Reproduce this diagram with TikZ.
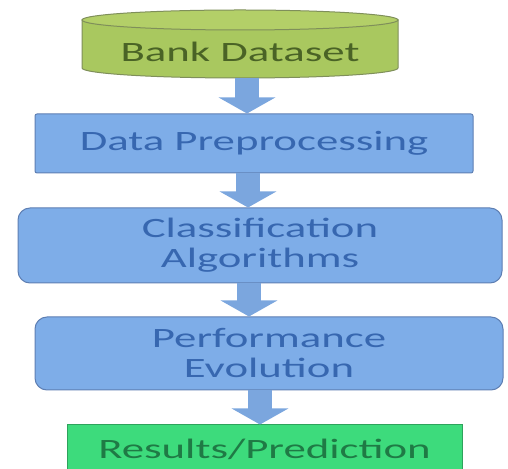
\documentclass[tikz,border=0pt]{standalone}
\usepackage{fontspec}
\setmainfont{Carlito}[FakeStretch=1.6]
\usetikzlibrary{arrows.meta}
\definecolor{cylgreen}{HTML}{A9C85F}
\definecolor{cyltop}{HTML}{B3CF68}
\definecolor{cyledge}{HTML}{7F8F5A}
\definecolor{cyltext}{HTML}{4A6326}
\definecolor{boxblue}{HTML}{7EADE8}
\definecolor{boxedge}{HTML}{5E7FB3}
\definecolor{boxtext}{HTML}{3767B0}
\definecolor{resgreen}{HTML}{3DDB7C}
\definecolor{resedge}{HTML}{2EA35C}
\definecolor{restext}{HTML}{1F7A45}
\definecolor{flowblue}{HTML}{7BA6DE}
\tikzset{
  label font/.style={font=\fontsize{28pt}{30pt}\selectfont},
  box/.style={draw=boxedge, fill=boxblue, text=boxtext, line width=1pt, inner sep=0pt, align=center, label font},
  flow/.style={draw=flowblue, line width=24pt, -{Triangle[length=16pt,width=56pt]}}
}
\begin{document}
\begin{tikzpicture}[x=1pt,y=1pt]
   \useasboundingbox (0,0) rectangle (508,468);
   \fill[white] (0,0) rectangle (508,468);
   \filldraw[fill=cylgreen, draw=cyledge, line width=1pt] (82,448) -- (82,400) arc[start angle=180, end angle=360, x radius=158, y radius=10] -- (398,448) -- cycle;
   \filldraw[fill=cyltop, draw=cyledge, line width=1pt] (240,448) ellipse [x radius=158, y radius=10];
   \node (cyl) [minimum width=316pt, minimum height=68pt, inner sep=0pt] at (240,424) {};
   \node (bank) [text=cyltext, label font] at (240,416) {Bank Dataset};
   \node (prep) [box, minimum width=438pt, minimum height=59pt, rounded corners=2pt] at (254,324.5) {Data Preprocessing};
   \node (clas) [box, minimum width=484pt, minimum height=75pt, rounded corners=12pt] at (260,222.5) {Classification\\Algorithms};
   \node (perf) [box, minimum width=468pt, minimum height=73pt, rounded corners=12pt] at (269,114.5) {Performance\\Evolution};
   \node (res) [box, fill=resgreen, draw=resedge, text=restext, minimum width=395pt, minimum height=49pt] at (264.5,18.5) {Results/Prediction};
   \coordinate (x1) at (247,0);
   \coordinate (x2) at (248,0);
   \coordinate (x3) at (249,0);
   \coordinate (x4) at (260,0);
   \draw[flow] (cyl.south -| x1) -- (prep.north -| x1);
   \draw[flow] (prep.south -| x2) -- (clas.north -| x2);
   \draw[flow] (clas.south -| x3) -- (perf.north -| x3);
   \draw[flow] (perf.south -| x4) -- (res.north -| x4);
\end{tikzpicture}
\end{document}
